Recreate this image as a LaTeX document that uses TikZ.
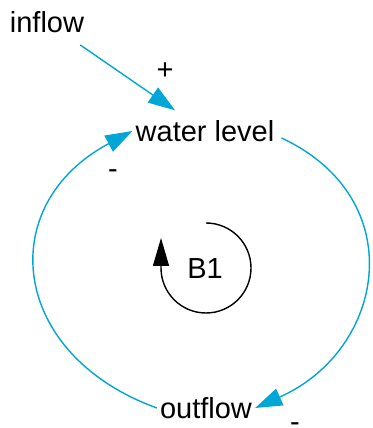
\documentclass[tikz,border=0pt]{standalone}
\usepackage{fontspec}
\setmainfont{Liberation Sans}
\usetikzlibrary{arrows.meta}
\definecolor{linkblue}{HTML}{00A6D6}

\begin{document}
\begin{tikzpicture}[x=1pt, y=1pt,
  var/.style={inner sep=3pt, font=\fontsize{29}{34}\selectfont},
  sign/.style={inner sep=0pt, anchor=base, font=\fontsize{29}{34}\selectfont},
  link/.style={draw=linkblue, line width=1.4pt, -{Triangle[length=27pt, width=18pt]}}]

  \useasboundingbox (0,0) rectangle (372,428);

  % Variables
  \node[var] (inflow) at (47,406) {inflow};
  \node[var] (level) at (205,297) {water level};
  \node[var] (outflow) at (206,20) {outflow};

  % Polarity signs
  \node[sign] (plusin) at (165,348) {+};
  \node[sign] (minuslevel) at (113,249.5) {-};
  \node[sign] (minusout) at (295,-3.5) {-};

  % Causal links
  \draw[link, shorten <=16pt, shorten >=12pt] (inflow) -- (level);
  \draw[link] ([xshift=4pt, yshift=-7pt]level.east) to[out=-25, in=24, looseness=1.35] (outflow.east);
  \draw[link] (outflow.west) to[out=160, in=208, looseness=1.45] (level.west);

  % Balancing loop marker
  \node[sign, anchor=center] (loopname) at (205,159) {B1};
  \draw[line width=1.4pt, -{Triangle[length=28pt, width=16pt]}]
    (206,205) arc[start angle=90, end angle=-180, radius=45] -- ++(0,30);

\end{tikzpicture}
\end{document}
